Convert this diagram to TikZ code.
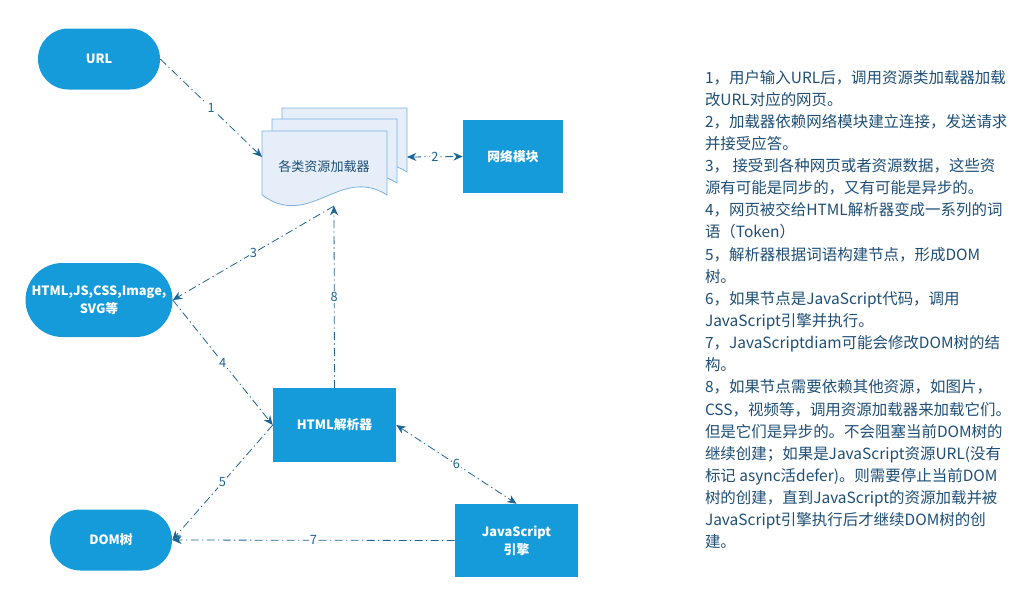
\documentclass[tikz,border=0pt]{standalone}
\usepackage{fontspec}
\setmainfont{Noto Sans CJK SC}
\usetikzlibrary{arrows.meta}

\definecolor{nodeblue}{RGB}{22,155,218}
\definecolor{linkblue}{RGB}{27,100,150}
\definecolor{docfill}{RGB}{230,239,249}
\definecolor{docline}{RGB}{125,178,224}
\definecolor{noteblue}{RGB}{30,78,118}

\tikzset{
  pill/.style={fill=nodeblue,text=white,inner sep=0pt,align=center,
    font=\bfseries\fontsize{9.6}{13.5}\selectfont,
    minimum width=91.5pt,minimum height=45.75pt,rounded corners=22.8pt},
  box/.style={fill=nodeblue,text=white,inner sep=0pt,align=center,
    font=\bfseries\fontsize{9.6}{13.5}\selectfont,
    minimum width=92.25pt,minimum height=55pt},
  link/.style={draw=linkblue,line width=0.6pt,
    dash pattern=on 6pt off 2.5pt on 1pt off 2.5pt,
    -{Stealth[length=7pt,width=6pt]}},
  twoway/.style={link,{Stealth[length=7pt,width=6pt]}-{Stealth[length=7pt,width=6pt]}},
  tag/.style={fill=white,text=linkblue,inner sep=1pt,
    font=\fontsize{9.6}{11}\selectfont},
  note/.style={inner sep=0pt,outer sep=0pt,anchor=base west,text=noteblue,
    font=\fontsize{11.6}{14}\selectfont},
}

\begin{document}
\begin{tikzpicture}[x=.75pt,y=-.75pt]
\path[use as bounding box] (0,0) rectangle (1034,603);

% resource loader (stacked documents)
\foreach \dx/\dy in {20/-23,10/-12,0/0}
  \path[fill=docfill,draw=docline,line width=0.6pt,shift={(\dx*.75pt,-\dy*.75pt)}]
    (262,195) -- (262,131) -- (387,131) -- (387,195)
    .. controls (340,165) and (310,230) .. (262,195) -- cycle;
\node[text=noteblue,font=\fontsize{9.8}{12}\selectfont] (loader) at (324,167) {各类资源加载器};
\coordinate (ldrW) at (262,157);
\coordinate (ldrE) at (407,157);
\coordinate (ldrS) at (334,206);

% nodes
\node[pill] (url) at (99,59) {URL};
\node[pill,minimum width=110.25pt,minimum height=55.5pt,rounded corners=27.7pt] (res) at (99,300) {HTML,JS,CSS,Image,\\SVG等};
\node[pill] (dom) at (111,540) {DOM树};
\node[box,minimum width=75pt,minimum height=54.75pt] (net) at (513,156.5) {网络模块};
\node[box] (parser) at (334.5,425) {HTML解析器};
\node[box,minimum height=54.75pt] (js) at (516.5,540.5) {JavaScript\\引擎};

% connectors
\draw[link] (url.east) -- node[tag] {1} (ldrW);
\draw[twoway] (ldrE) -- node[tag] {2} (net.west);
\draw[link] (ldrS) -- node[tag] {3} (res.east);
\draw[link] (res.east) -- node[tag] {4} (parser.west);
\draw[link] (parser.west) -- node[tag] {5} (dom.east);
\draw[twoway] (parser.east) -- node[tag] {6} (js.north);
\draw[link] (js.west) -- node[tag] {7} (dom.east);
\draw[link] (parser.north) -- node[tag] {8} (ldrS);

% notes
\foreach \ln [count=\i] in {
  {1，用户输入URL后，调用资源类加载器加载},
  {改URL对应的网页。},
  {2，加载器依赖网络模块建立连接，发送请求},
  {并接受应答。},
  {3，\ 接受到各种网页或者资源数据，这些资},
  {源有可能是同步的，又有可能是异步的。},
  {4，网页被交给HTML解析器变成一系列的词},
  {语（Token）},
  {5，解析器根据词语构建节点，形成DOM},
  {树。},
  {6，如果节点是JavaScript代码，调用},
  {JavaScript引擎并执行。},
  {7，JavaScriptdiam可能会修改DOM树的结},
  {构。},
  {8，如果节点需要依赖其他资源，如图片，},
  {CSS，视频等，调用资源加载器来加载它们。},
  {但是它们是异步的。不会阻塞当前DOM树的},
  {继续创建；如果是JavaScript资源URL(没有},
  {标记 async活defer)。则需要停止当前DOM},
  {树的创建，直到JavaScript的资源加载并被},
  {JavaScript引擎执行后才继续DOM树的创},
  {建。}}
  \node[note] (note\i) at (705,{83+22.14*(\i-1)}) {\ln};
\end{tikzpicture}
\end{document}
